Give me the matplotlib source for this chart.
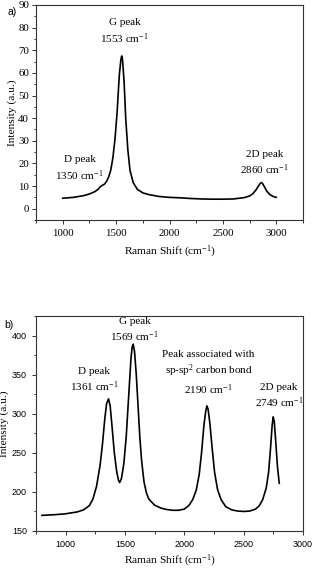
import numpy as np
import matplotlib
matplotlib.use("Agg")
import matplotlib.pyplot as plt
from matplotlib.ticker import MultipleLocator

plt.rcParams['font.family'] = ['Liberation Serif', 'DejaVu Serif']
plt.rcParams['mathtext.fontset'] = 'custom'
plt.rcParams['mathtext.rm'] = 'Liberation Serif'
plt.rcParams['mathtext.it'] = 'Liberation Serif:italic'

# (a) spectrum
shift_a = [1000, 1100, 1200, 1250, 1300, 1330, 1350, 1370, 1390, 1410, 1430, 1450,
           1470, 1490, 1510, 1530, 1545, 1553, 1560, 1575, 1590, 1610, 1630, 1660,
           1700, 1750, 1800, 1900, 2000, 2100, 2200, 2300, 2400, 2500, 2600, 2700,
           2750, 2780, 2810, 2830, 2850, 2860, 2870, 2890, 2910, 2940, 2970, 3000]
int_a = [4.6, 5.0, 5.8, 6.5, 7.5, 8.5, 9.6, 10.3, 10.8, 12.0, 14.0, 17.0,
         22.5, 31.0, 43.0, 59.0, 66.0, 67.5, 66.0, 56.0, 40.0, 26.0, 17.0, 11.5,
         8.5, 7.0, 6.3, 5.4, 5.0, 4.8, 4.5, 4.3, 4.2, 4.2, 4.3, 4.9,
         5.6, 6.6, 8.3, 9.8, 11.2, 11.5, 11.2, 9.6, 7.8, 6.2, 5.4, 5.0]

# (b) spectrum
shift_b = [800, 900, 1000, 1100, 1150, 1200, 1230, 1260, 1290, 1310, 1330, 1345,
           1361, 1375, 1390, 1410, 1430, 1445, 1455, 1470, 1490, 1510, 1530, 1550,
           1560, 1569, 1580, 1595, 1610, 1625, 1640, 1660, 1680, 1700, 1750, 1800,
           1850, 1900, 1950, 2000, 2040, 2070, 2100, 2125, 2145, 2165, 2180, 2190,
           2200, 2215, 2235, 2255, 2280, 2310, 2350, 2400, 2450, 2500, 2550, 2600,
           2630, 2660, 2690, 2710, 2725, 2740, 2749, 2758, 2770, 2785, 2800]
int_b = [170, 170.8, 172, 174.5, 177, 182.5, 191, 207, 234, 261, 294, 313,
         319, 310, 285, 250, 226, 215, 212, 217, 236, 270, 320, 370,
         385, 389, 380, 350, 310, 270, 240, 213, 199, 191, 183, 179.5,
         177.5, 176.5, 176.5, 178, 183, 190, 202, 222, 250, 285, 303, 310,
         306, 288, 255, 225, 203, 190, 181, 177, 175.5, 175, 175.5, 178,
         182, 190, 205, 225, 253, 285, 296, 290, 265, 232, 211]

labels_a = [(1580, 78, "G peak\n1553 cm$^{-1}$"),
            (1157, 17.6, "D peak\n1350 cm$^{-1}$"),
            (2887, 19.9, "2D peak\n2860 cm$^{-1}$")]
labels_b = [(1580, 407, "G peak\n1569 cm$^{-1}$"),
            (1240, 342, "D peak\n1361 cm$^{-1}$"),
            (2203, 351, "Peak associated with\nsp-sp$^{2}$ carbon bond\n2190 cm$^{-1}$"),
            (2798, 322, "2D peak\n2749 cm$^{-1}$")]

W, H = 314, 568
fig = plt.figure(figsize=(W / 100, H / 100), dpi=100)
ax1 = fig.add_axes([36 / W, 1 - 220 / H, 267 / W, 215 / H])
ax2 = fig.add_axes([36 / W, 1 - 531 / H, 267 / W, 215 / H])

for ax in (ax1, ax2):
    for s in ax.spines.values():
        s.set_linewidth(0.8)
        s.set_color('#333333')
    ax.tick_params(which='both', direction='out', top=False, right=False,
                   width=0.7, color='#333333')
    ax.tick_params(which='major', length=3)
    ax.tick_params(which='minor', length=1.8)
    ax.xaxis.set_major_locator(MultipleLocator(500))
    ax.xaxis.set_minor_locator(MultipleLocator(250))

# panel a
ax1.plot(shift_a, int_a, color='black', lw=1.2)
ax1.set_xlim(750, 3250)
ax1.set_ylim(-5, 90)
ax1.yaxis.set_major_locator(MultipleLocator(10))
ax1.yaxis.set_minor_locator(MultipleLocator(5))
ax1.tick_params(which='major', labelsize=7.8, pad=2)
ax1.tick_params(axis='x', which='major', pad=3.5)
ax1.set_xlabel("Raman Shift (cm$^{-1}$)", fontsize=8.2, labelpad=4)
ax1.set_ylabel("Intensity (a.u.)", fontsize=8.2, labelpad=1)
for x, y, t in labels_a:
    ax1.text(x, y, t, ha='center', va='center', fontsize=8, linespacing=1.35)

# panel b
ax2.plot(shift_b, int_b, color='black', lw=1.2)
ax2.set_xlim(750, 3000)
ax2.set_ylim(150, 425)
ax2.yaxis.set_major_locator(MultipleLocator(50))
ax2.yaxis.set_minor_locator(MultipleLocator(25))
ax2.tick_params(which='major', labelsize=6.5, pad=3.5)
for lab in ax2.get_xticklabels() + ax2.get_yticklabels():
    lab.set_family('Liberation Sans')
ax2.set_xlabel("Raman Shift (cm$^{-1}$)", fontsize=8.2, labelpad=3)
ax2.set_ylabel("Intensity (a.u.)", fontsize=8.2, labelpad=2)
for x, y, t in labels_b:
    ax2.text(x, y, t, ha='center', va='center', fontsize=8, linespacing=1.3)

fig.text(11.7 / W, 1 - 11.7 / H, "a)", family='Liberation Sans', fontsize=7.5,
         ha='center', va='center')
fig.text(8.7 / W, 1 - 324.7 / H, "b)", family='Liberation Sans', fontsize=7.5,
         ha='center', va='center')

fig.savefig("out.png", dpi=100)
